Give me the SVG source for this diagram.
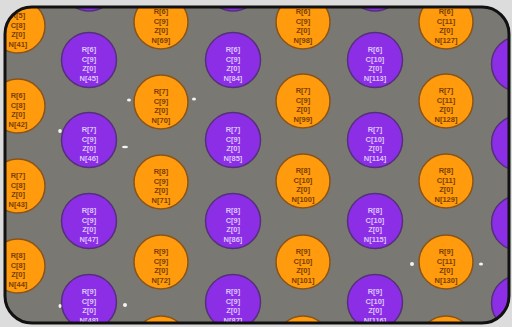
<svg xmlns="http://www.w3.org/2000/svg" width="512" height="327" viewBox="0 0 512 327">
<style>
.o{fill:#ff9b0c;stroke:#8a5418;stroke-width:1.5}
.p{fill:#8b2ee6;stroke:#55307a;stroke-width:1.5}
.to{fill:#7a3e02;font-family:"Liberation Sans",Arial,sans-serif;font-size:7.5px;text-anchor:middle;font-weight:bold}
.tp{fill:#dcc4ff;font-family:"Liberation Sans",Arial,sans-serif;font-size:7.5px;text-anchor:middle;font-weight:bold}
.spk{fill:#f4f4f4}
</style>
<defs>
<clipPath id="frameclip"><rect x="5" y="7" width="504" height="316" rx="27"/></clipPath>
</defs>
<rect width="512" height="327" fill="#dcdcdc"/>
<rect x="5" y="7" width="504" height="316" rx="27" fill="#7a7873"/>
<g clip-path="url(#frameclip)">
<g id="n41"><circle class="o" cx="18" cy="26" r="27"/><text class="to" x="18" y="18">R[5]<tspan x="18" dy="9.5">C[8]</tspan><tspan x="18" dy="9.5">Z[0]</tspan><tspan x="18" dy="9.5">N[41]</tspan></text></g>
<g id="n42"><circle class="o" cx="18" cy="106" r="27"/><text class="to" x="18" y="98">R[6]<tspan x="18" dy="9.5">C[8]</tspan><tspan x="18" dy="9.5">Z[0]</tspan><tspan x="18" dy="9.5">N[42]</tspan></text></g>
<g id="n43"><circle class="o" cx="18" cy="186" r="27"/><text class="to" x="18" y="178">R[7]<tspan x="18" dy="9.5">C[8]</tspan><tspan x="18" dy="9.5">Z[0]</tspan><tspan x="18" dy="9.5">N[43]</tspan></text></g>
<g id="n44"><circle class="o" cx="18" cy="266" r="27"/><text class="to" x="18" y="258">R[8]<tspan x="18" dy="9.5">C[8]</tspan><tspan x="18" dy="9.5">Z[0]</tspan><tspan x="18" dy="9.5">N[44]</tspan></text></g>
<g id="pB0"><circle class="p" cx="89" cy="-16" r="27"/></g>
<g id="n45"><circle class="p" cx="89" cy="60" r="27.5"/><text class="tp" x="89" y="52">R[6]<tspan x="89" dy="9.5">C[9]</tspan><tspan x="89" dy="9.5">Z[0]</tspan><tspan x="89" dy="9.5">N[45]</tspan></text></g>
<g id="n46"><circle class="p" cx="89" cy="140" r="27.5"/><text class="tp" x="89" y="132">R[7]<tspan x="89" dy="9.5">C[9]</tspan><tspan x="89" dy="9.5">Z[0]</tspan><tspan x="89" dy="9.5">N[46]</tspan></text></g>
<g id="n47"><circle class="p" cx="89" cy="221" r="27.5"/><text class="tp" x="89" y="213">R[8]<tspan x="89" dy="9.5">C[9]</tspan><tspan x="89" dy="9.5">Z[0]</tspan><tspan x="89" dy="9.5">N[47]</tspan></text></g>
<g id="n48"><circle class="p" cx="89" cy="302" r="27.5"/><text class="tp" x="89" y="294">R[9]<tspan x="89" dy="9.5">C[9]</tspan><tspan x="89" dy="9.5">Z[0]</tspan><tspan x="89" dy="9.5">N[48]</tspan></text></g>
<g id="n69"><circle class="o" cx="161" cy="22" r="27"/><text class="to" x="161" y="14">R[6]<tspan x="161" dy="9.5">C[9]</tspan><tspan x="161" dy="9.5">Z[0]</tspan><tspan x="161" dy="9.5">N[69]</tspan></text></g>
<g id="n70"><circle class="o" cx="161" cy="102" r="27"/><text class="to" x="161" y="94">R[7]<tspan x="161" dy="9.5">C[9]</tspan><tspan x="161" dy="9.5">Z[0]</tspan><tspan x="161" dy="9.5">N[70]</tspan></text></g>
<g id="n71"><circle class="o" cx="161" cy="182" r="27"/><text class="to" x="161" y="174">R[8]<tspan x="161" dy="9.5">C[9]</tspan><tspan x="161" dy="9.5">Z[0]</tspan><tspan x="161" dy="9.5">N[71]</tspan></text></g>
<g id="n72"><circle class="o" cx="161" cy="262" r="27"/><text class="to" x="161" y="254">R[9]<tspan x="161" dy="9.5">C[9]</tspan><tspan x="161" dy="9.5">Z[0]</tspan><tspan x="161" dy="9.5">N[72]</tspan></text></g>
<g id="oC4"><circle class="o" cx="161" cy="343" r="27"/></g>
<g id="pD0"><circle class="p" cx="233" cy="-16" r="27"/></g>
<g id="n84"><circle class="p" cx="233" cy="60" r="27.5"/><text class="tp" x="233" y="52">R[6]<tspan x="233" dy="9.5">C[9]</tspan><tspan x="233" dy="9.5">Z[0]</tspan><tspan x="233" dy="9.5">N[84]</tspan></text></g>
<g id="n85"><circle class="p" cx="233" cy="140" r="27.5"/><text class="tp" x="233" y="132">R[7]<tspan x="233" dy="9.5">C[9]</tspan><tspan x="233" dy="9.5">Z[0]</tspan><tspan x="233" dy="9.5">N[85]</tspan></text></g>
<g id="n86"><circle class="p" cx="233" cy="221" r="27.5"/><text class="tp" x="233" y="213">R[8]<tspan x="233" dy="9.5">C[9]</tspan><tspan x="233" dy="9.5">Z[0]</tspan><tspan x="233" dy="9.5">N[86]</tspan></text></g>
<g id="n87"><circle class="p" cx="233" cy="302" r="27.5"/><text class="tp" x="233" y="294">R[9]<tspan x="233" dy="9.5">C[9]</tspan><tspan x="233" dy="9.5">Z[0]</tspan><tspan x="233" dy="9.5">N[87]</tspan></text></g>
<g id="n98"><circle class="o" cx="303" cy="22" r="27"/><text class="to" x="303" y="14">R[6]<tspan x="303" dy="9.5">C[9]</tspan><tspan x="303" dy="9.5">Z[0]</tspan><tspan x="303" dy="9.5">N[98]</tspan></text></g>
<g id="n99"><circle class="o" cx="303" cy="101" r="27"/><text class="to" x="303" y="93">R[7]<tspan x="303" dy="9.5">C[9]</tspan><tspan x="303" dy="9.5">Z[0]</tspan><tspan x="303" dy="9.5">N[99]</tspan></text></g>
<g id="n100"><circle class="o" cx="303" cy="181" r="27"/><text class="to" x="303" y="173">R[8]<tspan x="303" dy="9.5">C[10]</tspan><tspan x="303" dy="9.5">Z[0]</tspan><tspan x="303" dy="9.5">N[100]</tspan></text></g>
<g id="n101"><circle class="o" cx="303" cy="262" r="27"/><text class="to" x="303" y="254">R[9]<tspan x="303" dy="9.5">C[10]</tspan><tspan x="303" dy="9.5">Z[0]</tspan><tspan x="303" dy="9.5">N[101]</tspan></text></g>
<g id="oE4"><circle class="o" cx="303" cy="343" r="27"/></g>
<g id="pF0"><circle class="p" cx="375" cy="-16" r="27"/></g>
<g id="n113"><circle class="p" cx="375" cy="60" r="27.5"/><text class="tp" x="375" y="52">R[6]<tspan x="375" dy="9.5">C[10]</tspan><tspan x="375" dy="9.5">Z[0]</tspan><tspan x="375" dy="9.5">N[113]</tspan></text></g>
<g id="n114"><circle class="p" cx="375" cy="140" r="27.5"/><text class="tp" x="375" y="132">R[7]<tspan x="375" dy="9.5">C[10]</tspan><tspan x="375" dy="9.5">Z[0]</tspan><tspan x="375" dy="9.5">N[114]</tspan></text></g>
<g id="n115"><circle class="p" cx="375" cy="221" r="27.5"/><text class="tp" x="375" y="213">R[8]<tspan x="375" dy="9.5">C[10]</tspan><tspan x="375" dy="9.5">Z[0]</tspan><tspan x="375" dy="9.5">N[115]</tspan></text></g>
<g id="n116"><circle class="p" cx="375" cy="302" r="27.5"/><text class="tp" x="375" y="294">R[9]<tspan x="375" dy="9.5">C[10]</tspan><tspan x="375" dy="9.5">Z[0]</tspan><tspan x="375" dy="9.5">N[116]</tspan></text></g>
<g id="n127"><circle class="o" cx="446" cy="22" r="27"/><text class="to" x="446" y="14">R[6]<tspan x="446" dy="9.5">C[11]</tspan><tspan x="446" dy="9.5">Z[0]</tspan><tspan x="446" dy="9.5">N[127]</tspan></text></g>
<g id="n128"><circle class="o" cx="446" cy="101" r="27"/><text class="to" x="446" y="93">R[7]<tspan x="446" dy="9.5">C[11]</tspan><tspan x="446" dy="9.5">Z[0]</tspan><tspan x="446" dy="9.5">N[128]</tspan></text></g>
<g id="n129"><circle class="o" cx="446" cy="181" r="27"/><text class="to" x="446" y="173">R[8]<tspan x="446" dy="9.5">C[11]</tspan><tspan x="446" dy="9.5">Z[0]</tspan><tspan x="446" dy="9.5">N[129]</tspan></text></g>
<g id="n130"><circle class="o" cx="446" cy="262" r="27"/><text class="to" x="446" y="254">R[9]<tspan x="446" dy="9.5">C[11]</tspan><tspan x="446" dy="9.5">Z[0]</tspan><tspan x="446" dy="9.5">N[130]</tspan></text></g>
<g id="oG4"><circle class="o" cx="446" cy="343" r="27"/></g>
<g id="pH1"><circle class="p" cx="519" cy="64" r="27.5"/></g>
<g id="pH2"><circle class="p" cx="519" cy="143" r="27.5"/></g>
<g id="pH3"><circle class="p" cx="519" cy="223" r="27.5"/></g>
<g id="pH4"><circle class="p" cx="519" cy="303" r="27.5"/></g>
<g id="specks">
<ellipse class="spk" cx="129" cy="100" rx="2" ry="1.5"/>
<ellipse class="spk" cx="194" cy="99" rx="2" ry="1.5"/>
<ellipse class="spk" cx="60" cy="131" rx="1.8" ry="2"/>
<ellipse class="spk" cx="125" cy="147" rx="3" ry="1.2"/>
<ellipse class="spk" cx="60" cy="306" rx="1.5" ry="2"/>
<ellipse class="spk" cx="125" cy="305" rx="2" ry="2"/>
<ellipse class="spk" cx="412" cy="264" rx="2" ry="2"/>
<ellipse class="spk" cx="481" cy="264" rx="2" ry="1.5"/>
</g>
</g>
<rect x="5" y="7" width="504" height="316" rx="27" fill="none" stroke="#111" stroke-width="3"/>
</svg>
